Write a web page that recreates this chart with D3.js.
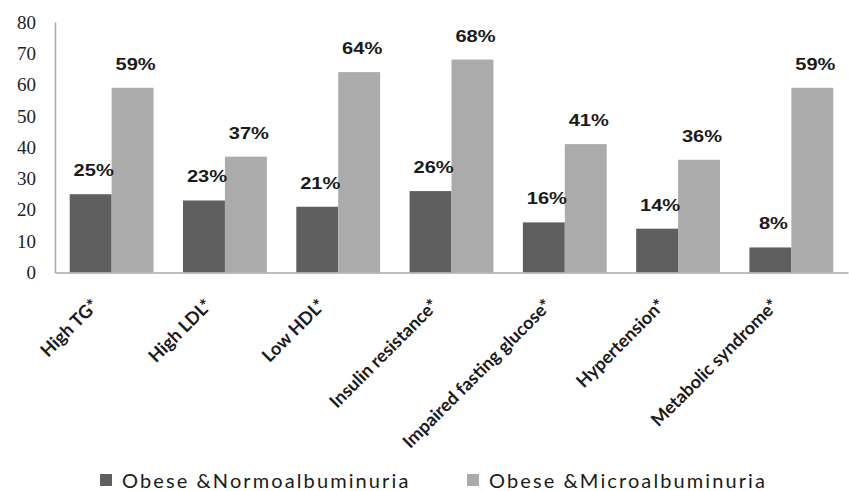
<!DOCTYPE html>
<html>
<head>
<meta charset="utf-8">
<script src="https://cdn.jsdelivr.net/npm/d3@7"></script>
<style>
  html, body { margin: 0; padding: 0; background: #fff; }
  svg { display: block; }
</style>
</head>
<body>
<svg id="chart" width="849" height="491"></svg>
<script>
// Prevalence (%) of metabolic risk factors by albuminuria status
const categories = ["High TG*", "High LDL*", "Low HDL*", "Insulin resistance*",
                    "Impaired fasting glucose*", "Hypertension*", "Metabolic syndrome*"];
const normoValues = [25, 23, 21, 26, 16, 14, 8];
const microValues = [59, 37, 64, 68, 41, 36, 59];
const seriesLegendText = ["Obese &Normoalbuminuria", "Obese &Microalbuminuria"];
const yTicks = [0, 10, 20, 30, 40, 50, 60, 70, 80];

const colors = ["#5f5f5f", "#ababab"];

const svg = d3.select("#chart");

const x0 = d3.scaleBand()
  .domain(categories)
  .range([55, 848])
  .paddingInner(0.26)
  .paddingOuter(0.13);

const x1 = d3.scaleBand()
  .domain([0, 1])
  .range([0, x0.bandwidth()]);

const y = d3.scaleLinear()
  .domain([0, 80])
  .range([272.5, 22]);

// y axis: line and tick labels only
const yAxis = d3.axisLeft(y).tickValues(yTicks).tickSize(0).tickPadding(19);
const gy = svg.append("g").attr("transform", "translate(55,0)").call(yAxis);
gy.select(".domain").attr("stroke", "#a8a8a8").attr("stroke-width", 1.5);
gy.selectAll("text")
  .attr("font-family", "'Liberation Serif', 'DejaVu Serif', serif")
  .attr("font-size", 19)
  .attr("fill", "#222");

// grouped bars
const rows = categories.map((c, i) => ({ cat: c, vals: [normoValues[i], microValues[i]] }));

const groups = svg.append("g").selectAll("g")
  .data(rows)
  .join("g")
  .attr("transform", d => `translate(${x0(d.cat)},0)`);

groups.selectAll("rect")
  .data(d => d.vals.map((v, k) => ({ v, k })))
  .join("rect")
  .attr("x", d => x1(d.k))
  .attr("width", x1.bandwidth())
  .attr("y", d => y(d.v))
  .attr("height", d => y(0) - y(d.v))
  .attr("fill", d => colors[d.k]);

// value labels above bars
groups.selectAll("text.val")
  .data(d => d.vals.map((v, k) => ({ v, k })))
  .join("text")
  .attr("class", "val")
  .attr("transform", d => `translate(${x1(d.k) + x1.bandwidth() / 2 + 3},${y(d.v) - 18}) scale(1.18,1)`)
  .attr("text-anchor", "middle")
  .attr("font-family", "'Liberation Sans', Arial, sans-serif")
  .attr("font-weight", "bold")
  .attr("font-size", 17)
  .attr("fill", "#1a1a1a")
  .text(d => d.v + "%");

// x axis baseline
const xAxis = d3.axisBottom(x0).tickSize(0).tickFormat("");
const gx = svg.append("g").attr("transform", `translate(0,${y(0)})`).call(xAxis);
gx.select(".domain").attr("stroke", "#a8a8a8").attr("stroke-width", 1.5);

// rotated category labels
svg.append("g").selectAll("text")
  .data(categories)
  .join("text")
  .attr("transform", d => `translate(${x0(d) + x0.bandwidth() / 2 - 12},${y(0) + 34}) rotate(-45)`)
  .attr("text-anchor", "end")
  .attr("font-family", "Lato, 'Open Sans', sans-serif")
  .attr("font-weight", "bold")
  .attr("font-size", 18)
  .attr("fill", "#1a1a1a")
  .text(d => d);

// legend
const legendX = [100, 467];
const legend = svg.append("g").selectAll("g")
  .data(seriesLegendText)
  .join("g")
  .attr("transform", (d, i) => `translate(${legendX[i]},474)`);

legend.append("rect")
  .attr("width", 12)
  .attr("height", 12)
  .attr("fill", (d, i) => colors[i]);

legend.append("text")
  .attr("x", 22)
  .attr("y", 14)
  .attr("font-family", "Lato, 'Open Sans', sans-serif")
  .attr("font-size", 20)
  .attr("letter-spacing", 2.1)
  .attr("fill", "#1a1a1a")
  .text(d => d);
</script>
</body>
</html>
